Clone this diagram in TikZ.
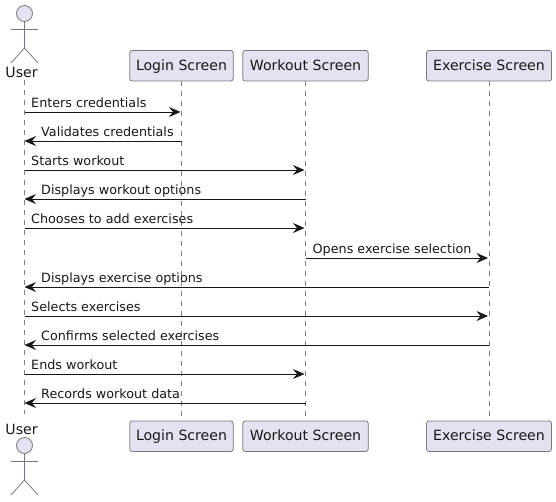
\documentclass[tikz,border=0pt]{standalone}
\usepackage{fontspec}
\setmainfont{DejaVu Sans}
\usetikzlibrary{arrows.meta,positioning,calc}
\definecolor{PartFill}{HTML}{E2E2F0}
\definecolor{PartLine}{HTML}{77777F}
\definecolor{LifeLine}{HTML}{808080}
\definecolor{MsgLine}{HTML}{181818}
\tikzset{
    % Participant boxes
    participant/.style={
        rectangle,
        rounded corners=2.5pt,
        draw=PartLine,
        line width=0.8pt,
        fill=PartFill,
        text=MsgLine,
        minimum height=30.5pt,
        inner sep=0pt,
        text height=11pt,
        text depth=2pt,
        font=\fontsize{14.1}{16}\selectfont
    },
    lifeline/.style={
        draw=LifeLine,
        line width=0.7pt,
        dash pattern=on 5pt off 5pt
    },
    actor head/.style={
        circle,
        draw=PartLine,
        line width=0.8pt,
        fill=PartFill,
        minimum size=16pt,
        inner sep=0pt
    },
    actor line/.style={
        draw=PartLine,
        line width=0.8pt
    },
    actor label/.style={
        text=MsgLine,
        inner sep=0pt,
        font=\fontsize{14.1}{16}\selectfont
    },
    message/.style={
        -{Stealth[length=11.5pt,width=10pt,inset=4pt]},
        line width=0.9pt,
        color=MsgLine,
        shorten >=1pt
    },
    message back/.style={
        message,
        shorten >=0pt
    },
    msg label/.style={
        anchor=base west,
        text=MsgLine,
        inner sep=0pt,
        font=\fontsize{12.75}{14}\selectfont
    }
}
\begin{document}
\begin{tikzpicture}[x=1pt,y=-1pt]
    \useasboundingbox (0,0) rectangle (556,501);

    % Top participants
    \node[participant, minimum width=103.5pt] (login) at (181.5,65.7) {Login Screen};
    \node[participant, minimum width=125.5pt] (workout) at (305.5,65.7) {Workout Screen};
    \node[participant, minimum width=125pt] (exercise) at (489,65.7) {Exercise Screen};

    % Bottom participants
    \node[participant, minimum width=103.5pt] (loginb) at (181.5,436.2) {Login Screen};
    \node[participant, minimum width=125.5pt] (workoutb) at (305.5,436.2) {Workout Screen};
    \node[participant, minimum width=125pt] (exerciseb) at (489,436.2) {Exercise Screen};

    % Top actor
    \node[actor head] (head) at (24.5,13.5) {};
    \node[actor label] (user) at (21.5,72.5) {User};
    \coordinate (hip) at (24.5,48);
    \coordinate (armL) at (11,29);
    \coordinate (armR) at (38,29);
    \coordinate (footL) at (11,63);
    \coordinate (footR) at (38,63);
    \draw[actor line] (head) -- (hip);
    \draw[actor line] (armL) -- (armR);
    \draw[actor line] (footL) -- (hip) -- (footR);

    % Bottom actor
    \node[actor label] (userb) at (21.5,429) {User};
    \node[actor head] (headb) at (24.5,445.5) {};
    \coordinate (hipb) at (24.5,480);
    \coordinate (armLb) at (11,461);
    \coordinate (armRb) at (38,461);
    \coordinate (footLb) at (11,495);
    \coordinate (footRb) at (38,495);
    \draw[actor line] (headb) -- (hipb);
    \draw[actor line] (armLb) -- (armRb);
    \draw[actor line] (footLb) -- (hipb) -- (footRb);

    % Lifelines
    \coordinate (life) at (24.5,80);
    \coordinate (lifeb) at (24.5,414);
    \draw[lifeline] (life) -- (lifeb);
    \draw[lifeline] (login) -- (loginb);
    \draw[lifeline] (workout) -- (workoutb);
    \draw[lifeline] (exercise) -- (exerciseb);

    % Message rows
    \foreach \y [count=\i] in {112,141,170,199,228,258,287,316,345,374,403}
        \coordinate (row\i) at (0,\y);

    % Messages
    \draw[message] (life |- row1) -- (login |- row1);
    \draw[message back] (login |- row2) -- (life |- row2);
    \draw[message] (life |- row3) -- (workout |- row3);
    \draw[message back] (workout |- row4) -- (life |- row4);
    \draw[message] (life |- row5) -- (workout |- row5);
    \draw[message] (workout |- row6) -- (exercise |- row6);
    \draw[message back] (exercise |- row7) -- (life |- row7);
    \draw[message] (life |- row8) -- (exercise |- row8);
    \draw[message back] (exercise |- row9) -- (life |- row9);
    \draw[message] (life |- row10) -- (workout |- row10);
    \draw[message back] (workout |- row11) -- (life |- row11);

    % Message labels
    \node[msg label] (t1) at (31,107) {Enters credentials};
    \node[msg label] (t2) at (41,136) {Validates credentials};
    \node[msg label] (t3) at (31,165.6) {Starts workout};
    \node[msg label] (t4) at (41,194.6) {Displays workout options};
    \node[msg label] (t5) at (31,223.6) {Chooses to add exercises};
    \node[msg label] (t6) at (312.5,253) {Opens exercise selection};
    \node[msg label] (t7) at (41,282) {Displays exercise options};
    \node[msg label] (t8) at (31,311) {Selects exercises};
    \node[msg label] (t9) at (41,340) {Confirms selected exercises};
    \node[msg label] (t10) at (31,369.6) {Ends workout};
    \node[msg label] (t11) at (41,398.6) {Records workout data};
\end{tikzpicture}
\end{document}
